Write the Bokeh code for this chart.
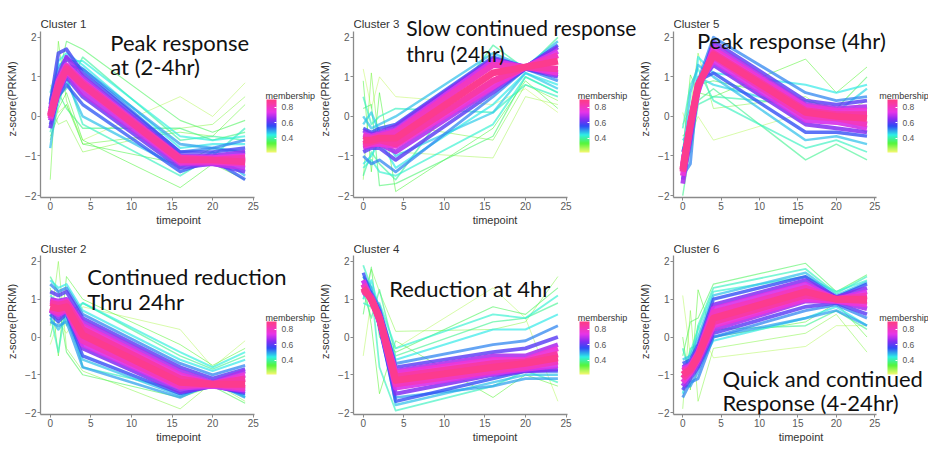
from bokeh.plotting import figure
from bokeh.models import ColumnDataSource, LinearColorMapper, ColorBar, FixedTicker, Label, Range1d
from bokeh.layouts import row, column
from bokeh.embed import file_html
from bokeh.resources import INLINE

# ---------------- data ----------------
timepoints = [0, 1, 2, 4, 16, 20, 24]
x_ticks = [0, 5, 10, 15, 20, 25]
y_ticks = [-2, -1, 0, 1, 2]
legend_ticks = [0.4, 0.6, 0.8]

c1_membership = [0.27, 0.30, 0.32, 0.34, 0.36, 0.38, 0.40, 0.42, 0.45, 0.48, 0.52, 0.55,
                 0.58, 0.62, 0.66, 0.70, 0.74, 0.78, 0.82, 0.86, 0.44, 0.50, 0.35]
c1_values = [
    [0.8, 0.1, 0.3, -0.6, 0.5, 0.0, 0.85],
    [0.3, -0.2, -0.1, -0.9, -0.3, -0.2, 0.5],
    [-1.6, 1.9, 0.4, -0.7, -0.4, -0.5, 0.3],
    [-0.6, 0.2, 0.6, -0.6, -1.8, -1.2, -1.6],
    [0.5, 1.0, 1.9, 1.7, -0.1, -0.4, -0.1],
    [0.0, 0.6, 0.2, -0.3, -0.3, -0.6, -0.4],
    [-0.3, 0.5, 0.7, 1.5, -0.6, -0.5, -0.6],
    [-0.4, 0.3, 1.0, -0.2, -1.5, -1.0, -0.3],
    [0.2, 1.4, 1.6, 1.3, -0.8, -0.7, -0.7],
    [-0.8, 0.6, 0.9, 0.0, -1.3, -0.9, -1.5],
    [0.4, 1.2, 1.5, 1.2, -0.9, -0.8, -0.6],
    [-0.2, 0.5, 0.8, 0.3, -1.4, -1.1, -1.6],
    [0.3, 1.6, 1.7, 1.1, -0.9, -0.9, -0.8],
    [-0.3, 0.6, 1.0, 0.5, -1.3, -1.2, -1.4],
    [0.2, 1.0, 1.5, 1.0, -1.0, -1.0, -0.9],
    [-0.1, 0.6, 1.1, 0.6, -1.2, -1.2, -1.3],
    [0.1, 0.9, 1.3, 0.9, -1.05, -1.05, -1.0],
    [-0.05, 0.7, 1.15, 0.75, -1.15, -1.15, -1.2],
    [0.05, 0.85, 1.25, 0.85, -1.05, -1.1, -1.05],
    [0.0, 0.75, 1.2, 0.8, -1.1, -1.1, -1.15],
    [0.6, 1.3, 1.4, 1.4, -0.5, -0.6, -0.5],
    [-0.1, 0.9, 1.3, 1.2, -0.7, -0.8, -0.9],
    [-0.5, 0.0, 0.3, -0.7, -1.2, -0.8, -0.9],
]

c3_membership = [0.26, 0.28, 0.31, 0.34, 0.37, 0.40, 0.42, 0.45, 0.48, 0.52, 0.56, 0.60,
                 0.64, 0.68, 0.72, 0.76, 0.80, 0.84, 0.88, 0.43, 0.47]
c3_values = [
    [1.2, 0.2, 1.0, 0.5, 0.3, 0.7, 0.1],
    [-0.8, -0.5, -0.3, -0.9, -1.05, 0.5, 0.3],
    [-1.6, 1.1, -0.8, -0.2, -0.6, 0.8, 0.4],
    [0.9, -1.4, 0.6, -1.9, -0.3, 0.9, 0.2],
    [0.2, 0.3, -1.75, -1.7, -0.5, 1.0, 0.6],
    [-1.5, -0.9, -1.2, -1.6, 1.8, 1.2, 2.0],
    [0.5, -0.2, 0.0, 0.2, 0.1, 0.8, 0.5],
    [-1.2, -1.0, -0.6, -1.3, 0.3, 1.1, 0.8],
    [0.0, -0.3, -0.2, 0.0, 1.6, 1.25, 1.9],
    [-1.0, -1.2, -1.1, -1.4, 0.5, 1.2, 0.9],
    [-0.3, -0.4, -0.3, -0.2, 1.5, 1.25, 1.8],
    [-0.9, -0.8, -0.8, -1.1, 0.6, 1.2, 1.0],
    [-0.35, -0.45, -0.4, -0.25, 1.45, 1.25, 1.75],
    [-0.8, -0.75, -0.7, -0.9, 0.7, 1.25, 1.05],
    [-0.45, -0.5, -0.45, -0.35, 1.4, 1.25, 1.65],
    [-0.75, -0.7, -0.7, -0.75, 0.75, 1.25, 1.1],
    [-0.5, -0.55, -0.5, -0.4, 1.3, 1.25, 1.55],
    [-0.7, -0.65, -0.6, -0.7, 0.9, 1.25, 1.2],
    [-0.6, -0.6, -0.55, -0.55, 1.1, 1.25, 1.4],
    [-1.3, -1.1, -1.4, -1.5, -0.2, 1.0, 0.6],
    [-0.2, 0.1, -0.4, -1.0, 0.1, 1.1, 0.7],
]

c5_membership = [0.27, 0.30, 0.33, 0.36, 0.39, 0.42, 0.45, 0.48, 0.52, 0.56, 0.60, 0.64,
                 0.68, 0.72, 0.76, 0.80, 0.84, 0.88, 0.41, 0.46]
c5_values = [
    [0.1, -0.5, 0.0, -0.6, 0.1, -0.2, -0.3],
    [-0.2, 0.2, 1.6, 0.2, 0.5, 0.0, 0.4],
    [-0.9, 1.05, 0.6, 0.5, 1.45, 0.6, 1.25],
    [-0.5, -0.3, 0.8, 0.9, 0.4, 0.2, 1.0],
    [-2.0, -0.8, 0.4, 0.7, -1.1, -0.7, -1.1],
    [-0.3, 0.8, 1.2, 0.4, -0.8, -0.6, -0.9],
    [-0.8, -0.6, 1.5, 1.1, 0.8, 0.6, 0.8],
    [-1.0, 0.6, 1.3, 1.0, -0.6, -0.5, -0.7],
    [-1.5, -1.2, 0.9, 2.0, 0.6, 0.4, 0.5],
    [-0.9, -0.3, 0.9, 1.1, -0.4, -0.4, -0.5],
    [-1.6, -0.6, 0.7, 1.9, 0.4, 0.3, 0.4],
    [-1.1, -0.2, 0.8, 1.3, -0.2, -0.3, -0.4],
    [-1.7, -0.5, 0.6, 1.8, 0.3, 0.2, 0.25],
    [-1.2, -0.1, 0.8, 1.4, -0.1, -0.15, -0.3],
    [-1.5, -0.3, 0.7, 1.7, 0.25, 0.15, 0.15],
    [-1.3, -0.15, 0.8, 1.5, 0.0, -0.05, -0.2],
    [-1.4, -0.2, 0.75, 1.6, 0.15, 0.05, 0.05],
    [-1.35, -0.2, 0.8, 1.55, 0.1, 0.0, -0.05],
    [-1.1, -0.9, 0.3, 0.5, 0.3, 0.0, -0.4],
    [-0.6, -0.4, 1.0, 0.8, 0.2, 0.1, 0.7],
]

c2_membership = [0.27, 0.30, 0.33, 0.36, 0.39, 0.42, 0.45, 0.48, 0.52, 0.56, 0.60, 0.64,
                 0.68, 0.72, 0.76, 0.80, 0.84, 0.88, 0.44, 0.50]
c2_values = [
    [-0.2, 0.4, 0.1, 0.8, 0.2, -0.8, -0.1],
    [0.3, 2.0, -0.3, -0.9, -1.9, -1.2, -1.7],
    [1.3, -0.5, 1.6, 1.0, -0.2, -0.75, -0.3],
    [0.0, 0.9, -0.4, -1.0, -1.6, -1.3, -1.75],
    [1.6, 1.2, 0.3, 0.9, -0.5, -0.85, -0.5],
    [0.6, -0.4, 0.9, -0.8, -1.4, -1.15, -1.6],
    [1.5, 1.3, 1.4, 0.7, -0.6, -0.9, -0.6],
    [0.5, 0.2, 0.5, -0.6, -1.55, -1.25, -1.55],
    [1.4, 1.2, 1.3, 0.6, -0.7, -1.0, -0.75],
    [0.6, 0.4, 0.6, -0.5, -1.5, -1.3, -1.5],
    [1.2, 1.1, 1.2, 0.5, -0.8, -1.1, -0.85],
    [0.7, 0.5, 0.7, -0.3, -1.45, -1.3, -1.45],
    [1.0, 0.95, 1.0, 0.4, -0.9, -1.2, -0.9],
    [0.7, 0.6, 0.7, -0.2, -1.35, -1.3, -1.4],
    [0.95, 0.9, 0.95, 0.3, -1.0, -1.25, -1.0],
    [0.75, 0.65, 0.75, -0.1, -1.3, -1.25, -1.35],
    [0.9, 0.85, 0.9, 0.2, -1.1, -1.25, -1.1],
    [0.8, 0.75, 0.8, 0.05, -1.2, -1.25, -1.25],
    [1.1, 0.9, 0.6, 0.9, -0.4, -0.8, -0.4],
    [0.4, 0.3, 0.4, -0.8, -1.6, -1.2, -1.6],
]

c4_membership = [0.27, 0.30, 0.33, 0.36, 0.39, 0.42, 0.45, 0.48, 0.52, 0.56, 0.60, 0.64,
                 0.68, 0.72, 0.76, 0.80, 0.84, 0.88, 0.43, 0.50]
c4_values = [
    [-0.5, 1.0, 0.2, -0.3, 1.3, 0.5, -1.7],
    [1.0, 1.8, 1.2, 0.15, 0.2, 0.4, 1.6],
    [1.6, 0.3, -1.5, -0.1, -1.6, -1.0, -1.3],
    [0.6, 1.85, 0.0, -0.4, 0.8, 0.6, 1.3],
    [1.2, 0.5, 1.25, -0.5, 0.4, 0.5, 0.9],
    [1.9, 1.3, -0.8, -1.95, -1.3, -0.9, -1.2],
    [1.0, 1.5, 0.7, -0.6, 0.2, 0.2, 0.6],
    [1.4, 0.9, 0.4, -1.8, -1.2, -1.0, -1.0],
    [1.1, 1.2, 0.8, -0.7, -0.2, -0.1, 0.3],
    [1.7, 1.1, 0.3, -1.7, -1.1, -0.9, -0.9],
    [1.2, 1.1, 0.7, -0.8, -0.4, -0.3, 0.0],
    [1.5, 1.0, 0.35, -1.5, -1.0, -0.9, -0.85],
    [1.3, 1.1, 0.6, -0.9, -0.5, -0.5, -0.2],
    [1.5, 1.0, 0.4, -1.35, -0.95, -0.85, -0.75],
    [1.2, 1.05, 0.55, -0.95, -0.6, -0.6, -0.3],
    [1.4, 0.95, 0.45, -1.25, -0.9, -0.8, -0.65],
    [1.25, 1.0, 0.5, -1.05, -0.7, -0.65, -0.45],
    [1.3, 1.0, 0.5, -1.15, -0.8, -0.7, -0.55],
    [0.9, 0.8, 0.9, -0.3, 0.6, 0.5, 1.1],
    [1.6, 1.3, 0.2, -1.6, -1.3, -1.1, -1.1],
]

c6_membership = [0.27, 0.30, 0.33, 0.36, 0.39, 0.42, 0.45, 0.48, 0.52, 0.56, 0.60, 0.64,
                 0.68, 0.72, 0.76, 0.80, 0.84, 0.88, 0.43, 0.50]
c6_values = [
    [1.1, -0.5, 0.3, -0.55, -0.25, 0.3, 0.3],
    [-1.9, 0.7, -1.7, -0.3, 0.1, 0.6, -0.4],
    [0.0, -1.4, 1.25, 0.0, 0.4, 0.9, 0.0],
    [-0.5, 0.4, 0.5, 1.4, 1.95, 1.2, 1.65],
    [-1.2, -0.3, -0.2, 0.2, 0.3, 0.7, 0.2],
    [-0.3, -1.0, 0.3, 1.3, 1.8, 1.15, 1.6],
    [-1.5, -0.7, -0.8, -0.1, 0.5, 0.8, 0.3],
    [-0.6, -0.5, 0.0, 1.1, 1.7, 1.1, 1.45],
    [-1.6, -1.2, -1.1, 0.0, 0.7, 0.85, 0.5],
    [-0.7, -0.6, -0.2, 1.0, 1.6, 1.05, 1.4],
    [-1.4, -1.1, -0.8, 0.1, 0.8, 0.9, 0.6],
    [-0.8, -0.7, -0.3, 0.85, 1.5, 1.05, 1.3],
    [-1.3, -1.0, -0.7, 0.2, 0.95, 0.95, 0.75],
    [-0.85, -0.75, -0.4, 0.75, 1.4, 1.0, 1.2],
    [-1.2, -0.95, -0.6, 0.3, 1.0, 0.95, 0.85],
    [-0.9, -0.8, -0.45, 0.65, 1.3, 1.0, 1.1],
    [-1.1, -0.9, -0.55, 0.4, 1.1, 1.0, 0.95],
    [-1.0, -0.85, -0.5, 0.5, 1.2, 1.0, 1.0],
    [-1.0, -0.4, 0.2, 1.2, 1.6, 1.2, 1.5],
    [-1.3, -1.3, -0.9, 0.0, 0.5, 0.7, 0.3],
]

c1_note = ["Peak response", "at (2-4hr)"]
c3_note = ["Slow continued response", "thru (24hr)"]
c5_note = ["Peak response (4hr)"]
c2_note = ["Continued reduction", "Thru 24hr"]
c4_note = ["Reduction at 4hr"]
c6_note = ["Quick and continued", "Response (4-24hr)"]

# ---------------- styling / layout ----------------
anchors = [(0.0, "#F8F870"), (0.17, "#55F53A"), (0.33, "#2EF0E6"), (0.5, "#2F4BF5"),
           (0.63, "#8A2BF2"), (0.76, "#E835E8"), (1.0, "#FF3C82")]


def hex2rgb(h):
    return tuple(int(h[i:i + 2], 16) for i in (1, 3, 5))


palette = []
for k in range(256):
    f = k / 255
    for (p0, col0), (p1, col1) in zip(anchors, anchors[1:]):
        if p0 <= f <= p1:
            t = (f - p0) / (p1 - p0)
            a, b = hex2rgb(col0), hex2rgb(col1)
            palette.append("#%02x%02x%02x" % tuple(round(a[i] + (b[i] - a[i]) * t) for i in range(3)))
            break

AX_FONT = "Liberation Sans"
NOTE_FONT = "Lato"
X_LO, X_HI = -1.2, 25.2      # visible axis extent (timepoint)
Y_LO, Y_HI = -2.05, 2.15     # visible axis extent (z-score)
CB_W, CB_H = 10, 53

panels_top = [
    ("Cluster 1", c1_membership, c1_values, c1_note,
     dict(width=316, left=40, xs=8.12, note_x=7.4, note_y=[1.87, 1.25], note_size="22px", cb_x=226)),
    ("Cluster 3", c3_membership, c3_values, c3_note,
     dict(width=320, left=36, xs=8.14, note_x=5.3, note_y=[2.25, 1.60], note_size="21px", cb_x=226)),
    ("Cluster 5", c5_membership, c5_values, c5_note,
     dict(width=292, left=28, xs=7.95, note_x=1.85, note_y=[1.92], note_size="22px", cb_x=214)),
]
panels_bottom = [
    ("Cluster 2", c2_membership, c2_values, c2_note,
     dict(width=316, left=40, xs=8.12, note_x=4.56, note_y=[1.61, 0.95], note_size="22px", cb_x=226)),
    ("Cluster 4", c4_membership, c4_values, c4_note,
     dict(width=320, left=36, xs=8.14, note_x=3.2, note_y=[1.29], note_size="22px", cb_x=226)),
    ("Cluster 6", c6_membership, c6_values, c6_note,
     dict(width=292, left=28, xs=7.95, note_x=5.18, note_y=[-1.10, -1.73], note_size="22px", cb_x=214)),
]


def make_panel(title, membership, values, note, geo, height, bottom, ys, cb_y):
    w = geo["width"]
    left = geo["left"]
    xs = geo["xs"]
    x_end = X_LO + (w - left) / xs
    y_end = Y_LO + (height - bottom) / ys
    p = figure(width=w, height=height, output_backend="svg", toolbar_location=None, title=None,
               x_range=Range1d(X_LO, x_end), y_range=Range1d(Y_LO, y_end),
               min_border_left=left, min_border_right=0,
               min_border_top=0, min_border_bottom=bottom,
               x_axis_label="timepoint", y_axis_label="z-score(PRKM)")
    p.outline_line_color = None
    p.xgrid.visible = False
    p.ygrid.visible = False
    p.background_fill_color = "white"
    p.border_fill_color = "white"

    p.xaxis.ticker = FixedTicker(ticks=x_ticks)
    p.yaxis.ticker = FixedTicker(ticks=y_ticks)
    p.xaxis.bounds = (X_LO, X_HI)
    p.yaxis.bounds = (Y_LO, Y_HI)
    for ax in (p.xaxis[0], p.yaxis[0]):
        ax.axis_line_color = "#8a8a8a"
        ax.axis_line_width = 1.3
        ax.major_tick_line_color = "#8a8a8a"
        ax.major_tick_in = 0
        ax.major_tick_out = 3
        ax.minor_tick_line_color = None
        ax.major_label_text_font = AX_FONT
        ax.major_label_text_font_size = "10px"
        ax.major_label_text_color = "#5a5a5a"
        ax.major_label_standoff = 1
        ax.axis_label_text_font = AX_FONT
        ax.axis_label_text_font_size = "11px"
        ax.axis_label_text_font_style = "normal"
        ax.axis_label_text_color = "#333333"
        ax.axis_label_standoff = 1
    p.yaxis[0].axis_label_standoff = 4

    mapper = LinearColorMapper(palette=palette, low=0.22, high=0.9)

    order = sorted(range(len(membership)), key=lambda i: membership[i])
    ms = [membership[i] for i in order]
    src = ColumnDataSource(dict(
        xs=[timepoints for _ in order],
        ys=[values[i] for i in order],
        m=ms,
        w=[1.0 + max(0.0, m - 0.35) * 11 for m in ms],
        a=[min(1.0, 0.5 + (m - 0.25) * 0.9) for m in ms],
    ))
    p.multi_line("xs", "ys", source=src, line_color={"field": "m", "transform": mapper},
                 line_width="w", line_alpha="a", line_join="round")

    # panel title, left-aligned with the y axis
    p.add_layout(Label(x=X_LO, y=Y_HI + 7 / ys, text=title, text_font=AX_FONT,
                       text_font_size="11.5px", text_color="#333333",
                       text_baseline="alphabetic", text_align="left"))

    cb = ColorBar(color_mapper=mapper, ticker=FixedTicker(ticks=legend_ticks),
                  width=CB_W, height=CB_H, title=None,
                  major_label_text_font=AX_FONT, major_label_text_font_size="8.5px",
                  major_label_text_color="#555555", label_standoff=5,
                  major_tick_line_color="white", major_tick_in=2, major_tick_out=0,
                  bar_line_color=None, border_line_color=None, background_fill_color=None,
                  location=(geo["cb_x"], cb_y), margin=0, padding=0)
    p.add_layout(cb)
    # colour-bar title, horizontal above the bar
    p.add_layout(Label(x=X_LO + geo["cb_x"] / xs - 1 / xs, y=Y_LO + (cb_y + CB_H + 4) / ys,
                       text="membership", text_font=AX_FONT, text_font_size="9px",
                       text_color="#333333", text_baseline="alphabetic", text_align="left"))

    for txt, yy in zip(note, geo["note_y"]):
        p.add_layout(Label(x=geo["note_x"], y=yy, text=txt, text_font=NOTE_FONT,
                           text_font_size=geo["note_size"], text_color="#111111",
                           text_baseline="alphabetic", text_align="left"))
    return p


top_row = row(*[make_panel(t, m, v, n, g, 228, 30, 39.75, 45) for t, m, v, n, g in panels_top])
bottom_row = row(*[make_panel(t, m, v, n, g, 217, 30, 38.0, 40) for t, m, v, n, g in panels_bottom])
layout = column(top_row, bottom_row)

open("out.html", "w").write(file_html(layout, INLINE))
